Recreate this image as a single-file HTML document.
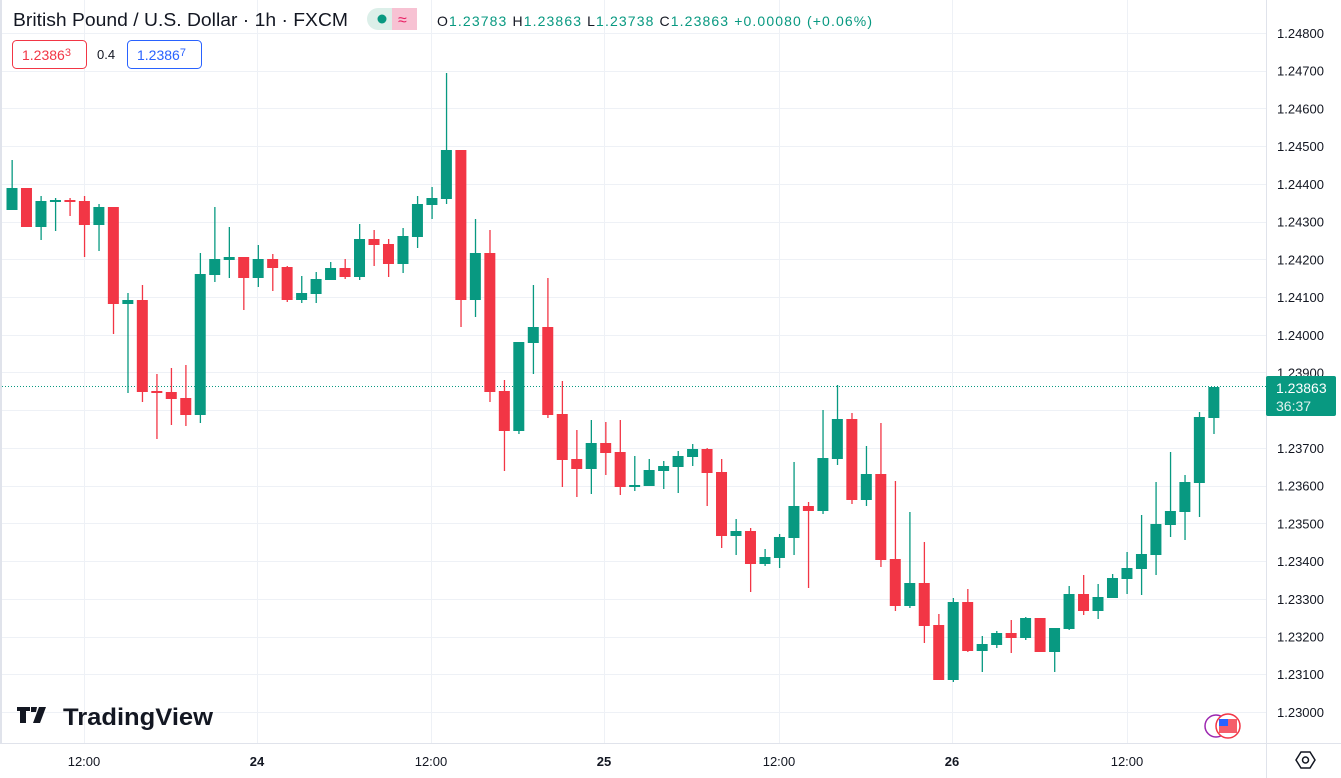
<!DOCTYPE html>
<html><head><meta charset="utf-8"><style>
body{margin:0;width:1341px;height:778px;overflow:hidden;background:#fff;font-family:"Liberation Sans",sans-serif;}
svg{position:absolute;left:0;top:0}
</style></head><body>
<svg id="s" width="1341" height="778" xmlns="http://www.w3.org/2000/svg"></svg>
<script>
var d=[
[210,188,188,160,210],[188,227,188,188,227],[227,201,201,196,240],[202,200,200,198,231],[200,202,200,198,216],[201,225,201,196,257],[225,207,207,204,251],[207,304,207,207,334],[304,300,300,293,393],[300,392,300,285,402],
[391,393,391,374,439],[392,399,392,368,425],[398,415,398,365,426],[415,274,274,253,423],[275,259,259,207,282],[260,257,257,227,278],[257,278,257,257,310],[278,259,259,245,287],[259,268,259,254,291],[267,300,267,266,302],
[300,293,293,276,303],[294,279,279,272,303],[280,268,268,262,280],[268,277,268,259,279],[277,239,239,224,280],[239,245,239,230,266],[244,264,244,239,277],[264,236,236,228,273],[237,204,204,196,248],[205,198,198,187,219],
[199,150,150,73,204],[150,300,150,150,327],[300,253,253,219,317],[253,392,253,230,402],[391,431,391,380,471],[431,342,342,342,434],[343,327,327,285,374],[327,415,327,278,418],[414,460,414,381,487],[459,469,459,430,497],
[469,443,443,420,494],[443,453,443,422,475],[452,487,452,420,495],[487,485,485,456,491],[486,470,470,459,486],[471,466,466,461,489],[467,456,456,451,493],[457,449,449,444,466],[449,473,449,448,506],[472,536,472,459,548],
[536,531,531,519,555],[531,564,531,528,592],[564,557,557,549,566],[558,537,537,534,568],[538,506,506,462,555],[506,511,506,502,588],[511,458,458,410,514],[459,419,419,385,465],[419,500,419,413,504],[500,474,474,446,506],
[474,560,474,423,567],[559,606,559,481,611],[606,583,583,512,608],[583,626,583,542,643],[625,680,625,614,680],[680,602,602,598,682],[602,651,602,589,652],[651,644,644,636,672],[645,633,633,631,648],[633,638,633,620,653],
[638,618,618,617,640],[618,652,618,618,652],[652,628,628,628,672],[629,594,594,586,630],[594,611,594,575,615],[611,597,597,584,619],[598,578,578,574,598],[579,568,568,552,594],[569,554,554,515,595],[555,524,524,482,575],
[525,511,511,452,537],[512,482,482,475,540],[483,417,417,412,517],[418,387,387,387,434]];
var s='';
s+='<rect x="0" y="0" width="2" height="743" fill="#e0e3eb"/>';
for(var k=0;k<19;k++){var y=Math.round(33+37.72*k)+.5;s+='<line x1="2" x2="1266" y1="'+y+'" y2="'+y+'" stroke="#eef1f6"/>';}
[84,257,431,604,779,952,1127].forEach(function(x){s+='<line x1="'+(x+.5)+'" x2="'+(x+.5)+'" y1="0" y2="743" stroke="#eef1f6"/>';});
var p=['1.24800','1.24700','1.24600','1.24500','1.24400','1.24300','1.24200','1.24100','1.24000','1.23900','1.23800','1.23700','1.23600','1.23500','1.23400','1.23300','1.23200','1.23100','1.23000'];
for(var k=0;k<19;k++){var y=33+37.72*k;s+='<text x="1277" y="'+(y+5)+'" font-size="13" fill="#131722">'+p[k]+'</text>';}
s+='<line x1="0" x2="1341" y1="743.5" y2="743.5" stroke="#e0e3eb"/>';
s+='<line x1="1266.5" x2="1266.5" y1="0" y2="778" stroke="#e0e3eb"/>';
[['12:00',84,0],['24',257,1],['12:00',431,0],['25',604,1],['12:00',779,0],['26',952,1],['12:00',1127,0]].forEach(function(t){s+='<text x="'+t[1]+'" y="766" text-anchor="middle" font-size="13" fill="#131722"'+(t[2]?' font-weight="bold"':'')+'>'+t[0]+'</text>';});
s+='<line x1="2" x2="1266" y1="386.5" y2="386.5" stroke="#089981" stroke-dasharray="1,2"/>';
d.forEach(function(c,i){var x=12+i*14.48;var g=c[1]<=c[0];var col=g?'#089981':'#f23645';
var t=Math.min(c[0],c[1]),b=Math.max(c[0],c[1]);if(b-t<2)b=t+2;
s+='<rect x="'+(x-0.5)+'" y="'+c[3]+'" width="1.3" height="'+(c[4]-c[3])+'" fill="'+col+'"/>';
s+='<rect x="'+(x-5.5)+'" y="'+t+'" width="11" height="'+(b-t)+'" fill="'+col+'"/>';});
s+='<rect x="1266" y="376" width="70" height="40" rx="2" fill="#089981"/>';
s+='<text x="1276" y="393" font-size="14" fill="#fff">1.23863</text><text x="1276" y="411" font-size="14" fill="#e0f2ee">36:37</text>';
s+='<polygon points="1296,760 1301,752 1310,752 1315,760 1310,768 1301,768" fill="none" stroke="#131722" stroke-width="1.5"/><circle cx="1305.5" cy="760" r="3" fill="none" stroke="#131722" stroke-width="1.5"/>';
s+='<circle cx="1216" cy="726" r="11" fill="#fff" stroke="#9c27b0" stroke-width="1.5"/><circle cx="1228" cy="726" r="12" fill="#fff" stroke="#f23645" stroke-width="1.5"/><rect x="1219" y="719" width="18" height="14" fill="#f23645" opacity=".8"/><rect x="1219" y="719" width="9" height="7" fill="#2962ff"/>';
s+='<text x="13" y="26" font-size="18" fill="#131722" textLength="335" lengthAdjust="spacingAndGlyphs">British Pound / U.S. Dollar · 1h · FXCM</text>';
s+='<rect x="367" y="8" width="50" height="22" rx="11" fill="#dcefe9"/><rect x="392" y="8" width="25" height="22" fill="#f7c2d3"/><rect x="405" y="8" width="12" height="22" rx="11" fill="#f7c2d3"/>';
s+='<circle cx="382" cy="19" r="4.5" fill="#089981"/><text x="398" y="25" font-size="16" fill="#e91e63">≈</text>';
s+='<text x="437" y="26" font-size="14" fill="#089981" textLength="435" lengthAdjust="spacing"><tspan fill="#131722">O</tspan>1.23783  <tspan fill="#131722">H</tspan>1.23863  <tspan fill="#131722">L</tspan>1.23738  <tspan fill="#131722">C</tspan>1.23863  +0.00080 (+0.06%)</text>';
s+='<rect x="12.5" y="40.5" width="74" height="28" rx="4" fill="#fff" stroke="#f23645"/><text x="22" y="60" font-size="14" fill="#f23645">1.2386<tspan font-size="11" dy="-4">3</tspan></text>';
s+='<text x="97" y="59" font-size="13" fill="#131722">0.4</text>';
s+='<rect x="127.5" y="40.5" width="74" height="28" rx="4" fill="#fff" stroke="#2962ff"/><text x="137" y="60" font-size="14" fill="#2962ff">1.2386<tspan font-size="11" dy="-4">7</tspan></text>';
s+='<path d="M17 707h13v4h-4v12h-6v-12h-3z M31 707h6l-1 5h-5z M39 707h7l-6 16h-7z" fill="#131722"/>';
s+='<text x="63" y="725" font-size="24" font-weight="bold" fill="#131722" textLength="150" lengthAdjust="spacingAndGlyphs">TradingView</text>';
document.getElementById('s').innerHTML=s;
</script>
</body></html>
